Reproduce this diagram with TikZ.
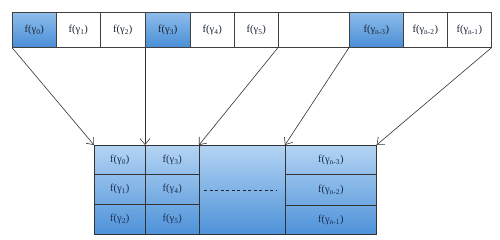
\documentclass[tikz,border=0pt]{standalone}
\usepackage{fontspec}
\setmainfont{Liberation Serif}
\usetikzlibrary{arrows.meta}
\definecolor{txt}{HTML}{1A2433}
\definecolor{btxt}{HTML}{1C2F4F}
\definecolor{bluetop}{HTML}{8EBDEB}
\definecolor{bluebot}{HTML}{4A8ED6}
\definecolor{lbtop}{HTML}{B3D4F3}
\definecolor{lbbot}{HTML}{4E92D9}
\tikzset{
  cell/.style={draw=black!75, line width=0.6pt, minimum height=35pt, inner sep=0pt, anchor=north west, font=\fontsize{10.5}{12}\selectfont, text=txt},
  bluecell/.style={cell, top color=bluetop, bottom color=bluebot},
  bcell/.style={draw=black!80, line width=0.6pt, inner sep=0pt, anchor=north west, font=\fontsize{10.5}{12}\selectfont, text=btxt},
  arr/.style={draw=black!80, line width=0.6pt, -{Straight Barb[length=6pt,width=10pt]}},
}
\newcommand{\fg}[1]{f(γ\textsubscript{#1})}
\begin{document}
\begin{tikzpicture}[x=1pt,y=-1pt]
\useasboundingbox (0,0) rectangle (500,240);
% top row
\node[bluecell, minimum width=44pt] (c0) at (12,12) {\fg{0}};
\node[cell, minimum width=44pt] (c1) at (56,12) {\fg{1}};
\node[cell, minimum width=45pt] (c2) at (100,12) {\fg{2}};
\node[bluecell, minimum width=45pt] (c3) at (145,12) {\fg{3}};
\node[cell, minimum width=44pt] (c4) at (190,12) {\fg{4}};
\node[cell, minimum width=44pt] (c5) at (234,12) {\fg{5}};
\node[cell, minimum width=71pt] (ce) at (278,12) {};
\node[bluecell, minimum width=54pt] (cn3) at (349,12) {\fg{n-3}};
\node[cell, minimum width=44pt] (cn2) at (403,12) {\fg{n-2}};
\node[cell, minimum width=44pt] (cn1) at (447,12) {\fg{n-1}};
% bottom block
\node[draw=black!80, line width=0.6pt, top color=lbtop, bottom color=lbbot, minimum width=282pt, minimum height=89pt, inner sep=0pt, anchor=north west] (blk) at (94,145) {};
\node[bcell, minimum width=51pt, minimum height=29pt] (b0) at (94,145) {\fg{0}};
\node[bcell, minimum width=51pt, minimum height=30pt] (b1) at (94,174) {\fg{1}};
\node[bcell, minimum width=51pt, minimum height=30pt] (b2) at (94,204) {\fg{2}};
\node[bcell, minimum width=54pt, minimum height=29pt] (b3) at (145,145) {\fg{3}};
\node[bcell, minimum width=54pt, minimum height=30pt] (b4) at (145,174) {\fg{4}};
\node[bcell, minimum width=54pt, minimum height=30pt] (b5) at (145,204) {\fg{5}};
\node[bcell, minimum width=86pt, minimum height=89pt] (bm) at (199,145) {};
\node[bcell, minimum width=91pt, minimum height=29pt] (bn3) at (285,145) {\fg{n-3}};
\node[bcell, minimum width=91pt, minimum height=31pt] (bn2) at (285,174) {\fg{n-2}};
\node[bcell, minimum width=91pt, minimum height=29pt] (bn1) at (285,205) {\fg{n-1}};
\coordinate (dl) at (204,190);
\coordinate (dr) at (277,190);
\draw[black!85, line width=0.6pt, dash pattern=on 3pt off 2.5pt] (dl) -- (dr);
% arrows
\draw[arr] (c0.south west) -- (b0.north west);
\draw[arr] (c3.south west) -- (b3.north west);
\draw[arr] (ce.south west) -- (bm.north west);
\draw[arr] (cn3.south west) -- (bn3.north west);
\draw[arr] (cn1.south east) -- (bn3.north east);
\end{tikzpicture}
\end{document}
